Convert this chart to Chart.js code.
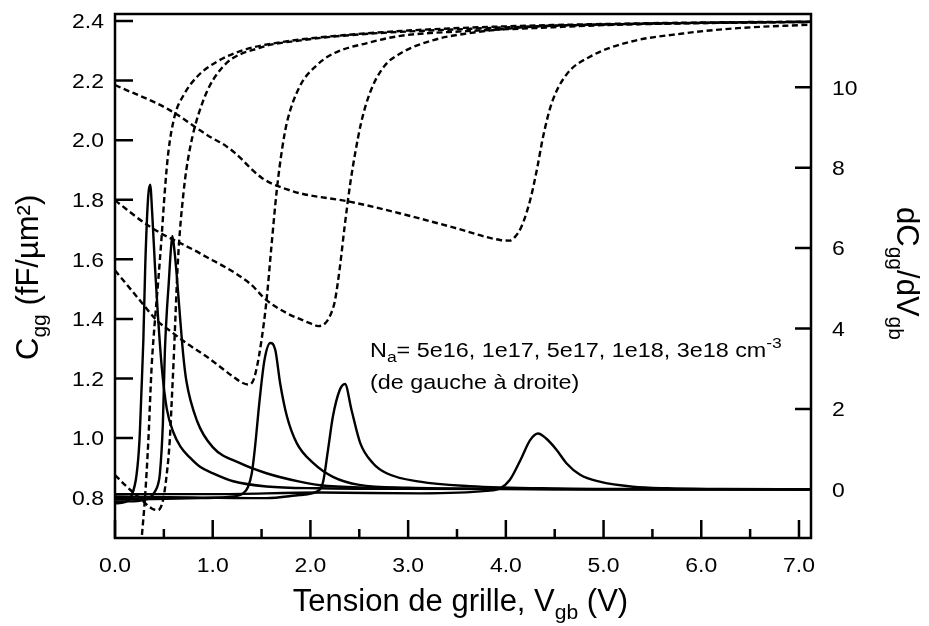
<!DOCTYPE html>
<html lang="fr">
<head>
<meta charset="utf-8">
<title>Cgg et dCgg/dVgb en fonction de Vgb</title>
<script src="https://cdn.jsdelivr.net/npm/chart.js@4.4.1/dist/chart.umd.min.js"></script>
<style>
  html, body { margin: 0; padding: 0; background: #fff; }
  #cvChart { display: block; }
</style>
</head>
<body>
<canvas id="cvChart" width="929" height="626"></canvas>
<script>
// Cgg (fF/µm²) versus gate voltage, one curve per doping level
const cggV_5e16 = [0.25, 0.273, 0.307, 0.341, 0.375, 0.41, 0.443, 0.478, 0.51, 0.546, 0.61, 0.70, 0.84, 1.04, 1.31, 1.72, 2.33, 3.0, 4.0, 5.0, 6.0, 7.12]
const cgg_5e16  = [0.58, 0.665, 0.80, 0.99, 1.24, 1.40, 1.53, 1.68, 1.83, 1.96, 2.08, 2.15, 2.213, 2.263, 2.302, 2.33, 2.352, 2.368, 2.382, 2.39, 2.395, 2.398]

const cggV_1e17 = [0, 0.12, 0.256, 0.376, 0.44, 0.49, 0.53, 0.56, 0.58, 0.60, 0.645, 0.70, 0.76, 0.90, 1.1, 1.48, 1.9, 2.5, 3.5, 4.5, 5.5, 7.12]
const cgg_1e17  = [0.876, 0.837, 0.798, 0.764, 0.758, 0.79, 0.88, 0.99, 1.12, 1.26, 1.60, 1.82, 1.96, 2.13, 2.245, 2.31, 2.335, 2.355, 2.372, 2.384, 2.391, 2.397]

const cggV_5e17 = [0, 0.256, 0.426, 0.596, 0.734, 0.94, 1.21, 1.30, 1.36, 1.41, 1.45, 1.50, 1.55, 1.60, 1.655, 1.71, 1.76, 1.89, 2.06, 2.23, 2.58, 2.92, 3.6, 4.28, 5.0, 6.0, 7.12]
const cgg_5e17  = [1.563, 1.462, 1.396, 1.352, 1.318, 1.273, 1.206, 1.186, 1.18, 1.19, 1.235, 1.33, 1.46, 1.64, 1.83, 1.97, 2.06, 2.18, 2.25, 2.29, 2.326, 2.35, 2.366, 2.376, 2.386, 2.393, 2.397]

const cggV_1e18 = [0, 0.36, 0.87, 1.38, 1.55, 1.76, 1.89, 2.0, 2.08, 2.15, 2.2, 2.25, 2.3, 2.35, 2.41, 2.46, 2.52, 2.61, 2.75, 2.92, 3.26, 3.6, 4.28, 4.96, 6.0, 7.12]
const cgg_1e18  = [1.798, 1.709, 1.62, 1.519, 1.463, 1.419, 1.40, 1.385, 1.376, 1.385, 1.41, 1.46, 1.57, 1.71, 1.86, 1.96, 2.06, 2.16, 2.246, 2.291, 2.336, 2.358, 2.381, 2.388, 2.394, 2.397]

const cggV_3e18 = [0, 0.56, 0.87, 1.0, 1.1, 1.21, 1.3, 1.4, 1.5, 1.6, 1.7, 1.89, 2.41, 2.92, 3.43, 3.94, 4.04, 4.1, 4.16, 4.25, 4.32, 4.38, 4.47, 4.62, 4.86, 5.27, 5.81, 6.33, 7.12]
const cgg_3e18  = [2.185, 2.101, 2.033, 2.006, 1.988, 1.962, 1.935, 1.902, 1.874, 1.855, 1.842, 1.822, 1.793, 1.754, 1.71, 1.665, 1.663, 1.678, 1.71, 1.80, 1.905, 2.01, 2.125, 2.22, 2.28, 2.33, 2.358, 2.375, 2.388]

// dCgg/dVgb, same doping levels
const dcV_5e16 = [0, 0.1, 0.17, 0.22, 0.25, 0.27, 0.29, 0.31, 0.34, 0.36, 0.38, 0.41, 0.44, 0.48, 0.53, 0.6, 0.67, 0.77, 0.87, 1.0, 1.21, 1.55, 2.1, 3.0, 4.5, 7.12]
const dc_5e16  = [-0.35, -0.32, -0.15, 0.35, 1.2, 2.4, 3.7, 5.6, 7.3, 7.58, 6.9, 5.5, 4.3, 3.0, 2.0, 1.4, 1.06, 0.78, 0.56, 0.4, 0.2, 0.07, 0.025, 0.01, 0.003, 0]

const dcV_1e17 = [0, 0.15, 0.29, 0.36, 0.41, 0.44, 0.46, 0.49, 0.51, 0.53, 0.55, 0.57, 0.587, 0.61, 0.63, 0.665, 0.70, 0.73, 0.84, 1.0, 1.28, 1.55, 1.89, 2.1, 2.6, 3.5, 5.0, 7.12]
const dc_1e17  = [-0.3, -0.3, -0.27, -0.2, -0.05, 0.12, 0.4, 1.64, 3.4, 4.4, 5.13, 5.9, 6.3, 5.9, 5.38, 4.3, 3.3, 2.7, 1.7, 1.05, 0.65, 0.4, 0.19, 0.1, 0.04, 0.015, 0.005, 0]

const dcV_5e17 = [0, 0.4, 0.87, 1.21, 1.31, 1.36, 1.40, 1.43, 1.48, 1.53, 1.59, 1.64, 1.69, 1.76, 1.86, 2.03, 2.23, 2.5, 3.0, 4.0, 5.0, 7.12]
const dc_5e17  = [-0.25, -0.24, -0.22, -0.18, -0.1, 0.05, 0.4, 0.98, 2.22, 3.22, 3.64, 3.47, 2.64, 1.81, 1.15, 0.65, 0.31, 0.11, 0.04, 0.01, 0.003, 0]

const dcV_1e18 = [0, 0.8, 1.55, 1.89, 2.06, 2.13, 2.18, 2.23, 2.3, 2.354, 2.42, 2.51, 2.64, 2.78, 3.12, 3.63, 4.5, 5.5, 7.12]
const dc_1e18  = [-0.18, -0.2, -0.22, -0.14, -0.06, 0.19, 0.98, 1.81, 2.47, 2.62, 1.98, 1.15, 0.65, 0.4, 0.19, 0.08, 0.02, 0.005, 0]

const dcV_3e18 = [0, 1.0, 2.1, 3.12, 3.8, 3.94, 4.04, 4.15, 4.25, 4.33, 4.41, 4.52, 4.62, 4.76, 4.96, 5.3, 5.65, 6.2, 7.12]
const dc_3e18  = [-0.12, -0.12, -0.08, -0.1, -0.04, 0.02, 0.23, 0.73, 1.23, 1.39, 1.27, 0.98, 0.65, 0.36, 0.19, 0.065, 0.025, 0.01, 0]

// Axis ticks
const xTicks = [0, 1, 2, 3, 4, 5, 6, 7]
const xTickLabels = ['0.0', '1.0', '2.0', '3.0', '4.0', '5.0', '6.0', '7.0']
const xMinorTicks = [0.5, 1.5, 2.5, 3.5, 4.5, 5.5, 6.5]
const cggTicks = [0.8, 1.0, 1.2, 1.4, 1.6, 1.8, 2.0, 2.2, 2.4]
const cggTickLabels = ['0.8', '1.0', '1.2', '1.4', '1.6', '1.8', '2.0', '2.2', '2.4']
const dcTicks = [0, 2, 4, 6, 8, 10]
const dcTickLabels = ['0', '2', '4', '6', '8', '10']

const FONT = "'Liberation Sans', Arial, Helvetica, sans-serif"

function curve(xs, ys, axis, dashed) {
    return {
        data: xs.map((v, i) => ({ x: v, y: ys[i] })),
        yAxisID: axis,
        borderColor: '#000',
        borderWidth: 2.4,
        borderDash: dashed ? [6, 3.5] : [],
        pointRadius: 0,
        showLine: true,
        fill: false,
        cubicInterpolationMode: 'monotone'
    }
}

// Draws a run of text pieces (with sub/superscripts) from a start point
function drawRuns(ctx, runs, x, y, size, opts) {
    opts = opts || {}
    const stretch = opts.stretch || 1
    const small = opts.small || 0.68
    const fontOf = r => ((r.sub || r.sup) ? size * small : size) + 'px ' + FONT
    let width = 0
    runs.forEach(r => { ctx.font = fontOf(r); width += ctx.measureText(r.t).width })
    let cx = 0
    if (opts.align === 'center') cx = -width / 2
    else if (opts.align === 'right') cx = -width

    ctx.save()
    ctx.translate(x, y)
    if (opts.rotate) ctx.rotate(opts.rotate)
    ctx.scale(stretch, 1)
    ctx.fillStyle = '#000'
    ctx.textAlign = 'left'
    ctx.textBaseline = 'alphabetic'
    runs.forEach(r => {
        ctx.font = fontOf(r)
        const dy = r.sub ? size * 0.25 : (r.sup ? -size * 0.42 : 0)
        ctx.fillText(r.t, cx, dy)
        cx += ctx.measureText(r.t).width
    })
    ctx.restore()
}

// Frame, inward ticks, tick labels, axis titles and the note
const frameAndText = {
    id: 'frameAndText',
    afterDraw(chart) {
        const ctx = chart.ctx
        const area = chart.chartArea
        const xs = chart.scales.x
        const yl = chart.scales.y
        const yr = chart.scales.y2

        ctx.save()
        ctx.strokeStyle = '#000'
        ctx.lineWidth = 2.5
        ctx.strokeRect(area.left, area.top, area.right - area.left, area.bottom - area.top)

        ctx.beginPath()
        xTicks.forEach(v => {
            const px = xs.getPixelForValue(v)
            ctx.moveTo(px, area.bottom)
            ctx.lineTo(px, area.bottom - 18)
        })
        xMinorTicks.forEach(v => {
            const px = xs.getPixelForValue(v)
            ctx.moveTo(px, area.bottom)
            ctx.lineTo(px, area.bottom - 9)
        })
        cggTicks.forEach(v => {
            const py = yl.getPixelForValue(v)
            ctx.moveTo(area.left, py)
            ctx.lineTo(area.left + 18, py)
        })
        dcTicks.forEach(v => {
            const py = yr.getPixelForValue(v)
            ctx.moveTo(area.right, py)
            ctx.lineTo(area.right - 16, py)
        })
        ctx.stroke()
        ctx.restore()

        const tickSize = 20.5
        const tickStretch = 1.12
        xTicks.forEach((v, i) => {
            drawRuns(ctx, [{ t: xTickLabels[i] }], xs.getPixelForValue(v), area.bottom + 34, tickSize,
                { align: 'center', stretch: tickStretch })
        })
        cggTicks.forEach((v, i) => {
            drawRuns(ctx, [{ t: cggTickLabels[i] }], area.left - 11, yl.getPixelForValue(v) + 7.3, tickSize,
                { align: 'right', stretch: tickStretch })
        })
        dcTicks.forEach((v, i) => {
            drawRuns(ctx, [{ t: dcTickLabels[i] }], area.right + 21, yr.getPixelForValue(v) + 7.3, tickSize,
                { stretch: tickStretch })
        })

        // axis titles
        drawRuns(ctx, [{ t: 'Tension de grille, V' }, { t: 'gb', sub: true }, { t: ' (V)' }],
            460.5, 611, 31, { align: 'center' })
        drawRuns(ctx, [{ t: 'C' }, { t: 'gg', sub: true }, { t: ' (fF/µm²)' }],
            38, 360, 31, { rotate: -Math.PI / 2 })
        drawRuns(ctx, [{ t: 'dC' }, { t: 'gg', sub: true }, { t: '/dV' }, { t: 'gb', sub: true }],
            897, 207, 31, { rotate: Math.PI / 2 })

        // doping note
        drawRuns(ctx, [{ t: 'N' }, { t: 'a', sub: true }, { t: '= 5e16, 1e17, 5e17, 1e18, 3e18 cm' }, { t: '-3', sup: true }],
            370, 356.5, 20.5, { stretch: 1.14, small: 0.75 })
        drawRuns(ctx, [{ t: '(de gauche à droite)' }], 370, 388.5, 20.5, { stretch: 1.14 })
    }
}

new Chart(document.getElementById('cvChart'), {
    type: 'scatter',
    data: {
        datasets: [
            curve(cggV_5e16, cgg_5e16, 'y', true),
            curve(cggV_1e17, cgg_1e17, 'y', true),
            curve(cggV_5e17, cgg_5e17, 'y', true),
            curve(cggV_1e18, cgg_1e18, 'y', true),
            curve(cggV_3e18, cgg_3e18, 'y', true),
            curve(dcV_5e16, dc_5e16, 'y2', false),
            curve(dcV_1e17, dc_1e17, 'y2', false),
            curve(dcV_5e17, dc_5e17, 'y2', false),
            curve(dcV_1e18, dc_1e18, 'y2', false),
            curve(dcV_3e18, dc_3e18, 'y2', false)
        ]
    },
    options: {
        responsive: false,
        animation: false,
        devicePixelRatio: 1,
        events: [],
        layout: { padding: { left: 115, right: 118, top: 14, bottom: 88 } },
        scales: {
            x: { type: 'linear', min: 0, max: 7.123, display: false },
            y: { type: 'linear', position: 'left', min: 0.6647, max: 2.4235, display: false },
            y2: { type: 'linear', position: 'right', min: -1.211, max: 11.823, display: false }
        },
        plugins: {
            legend: { display: false },
            tooltip: { enabled: false }
        }
    },
    plugins: [frameAndText]
})
</script>
</body>
</html>
